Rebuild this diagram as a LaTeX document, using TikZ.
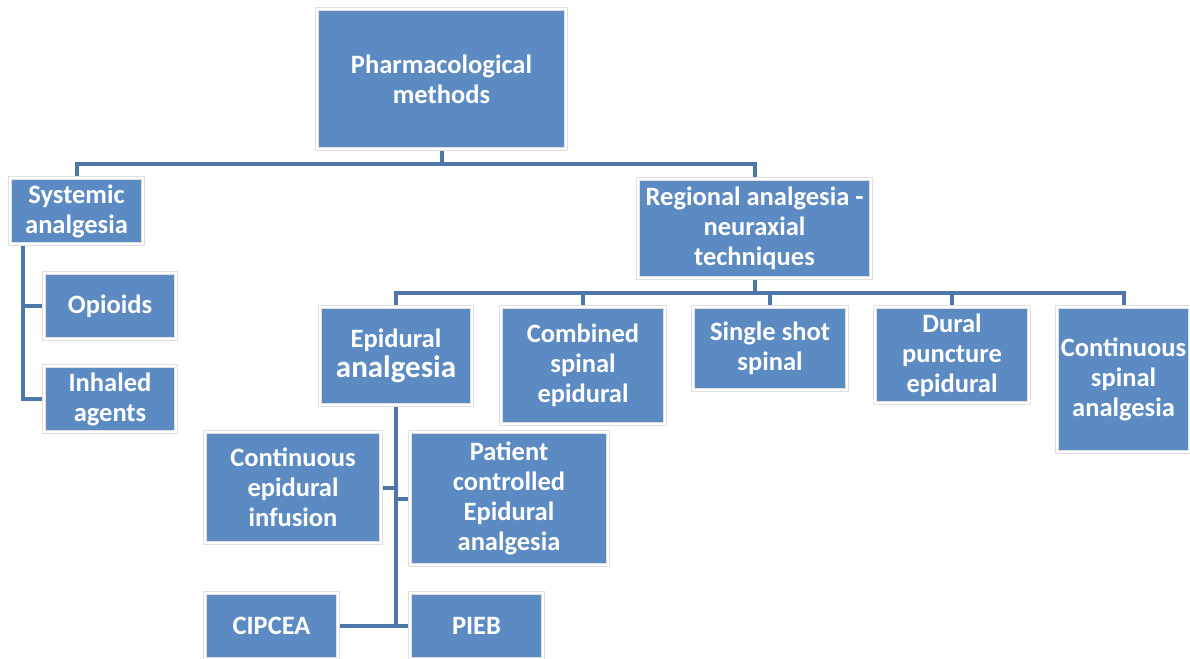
\documentclass[tikz,border=0pt]{standalone}
\usepackage{fontspec}
\setmainfont{Carlito}
\usetikzlibrary{backgrounds}

\definecolor{boxblue}{RGB}{91,139,194}
\definecolor{linkblue}{RGB}{76,119,168}

\tikzset{
  box/.style={rectangle, fill=boxblue, draw=black!12, double=white, double distance=2.6pt,
    line width=0.5pt, text=white, align=center, inner sep=2pt,
    font=\bfseries\fontsize{26.5}{30}\selectfont},
  conn/.style={draw=linkblue, line width=4pt}
}

\begin{document}
\begin{tikzpicture}[x=1pt,y=-1pt]

\useasboundingbox (0,0) rectangle (1190,658);

\node[box, minimum width=249, minimum height=140] (pharm) at (441.5,79) {Pharmacological\\methods};

\node[box, minimum width=133, minimum height=66] (sys) at (76.5,211) {Systemic\\analgesia};
\node[box, minimum width=132, minimum height=66] (opi) at (110,306) {Opioids};
\node[box, minimum width=132, minimum height=66] (inh) at (110,399) {Inhaled\\agents};

\node[box, minimum width=233, minimum height=99] (reg) at (754.5,228.5) {Regional analgesia -\\neuraxial\\techniques};

\node[box, minimum width=152, minimum height=98] (epi) at (396,356) {Epidural\\{\fontsize{31}{34}\selectfont analgesia}};
\node[box, minimum width=164, minimum height=117] (cse) at (583,365.5) {Combined\\spinal\\epidural};
\node[box, minimum width=154, minimum height=83] (sss) at (770,348.5) {Single shot\\spinal};
\node[box, minimum width=154, minimum height=96] (dpe) at (952,355) {Dural\\puncture\\epidural};
\node[box, minimum width=133, minimum height=145] (csa) at (1123.5,379.5) {Continuous\\spinal\\analgesia};

\node[box, minimum width=176, minimum height=111] (cei) at (293,487.5) {Continuous\\epidural\\infusion};
\node[box, minimum width=198, minimum height=133] (pcea) at (509,498.5) {Patient\\controlled\\Epidural\\analgesia};
\node[box, minimum width=133, minimum height=66] (cip) at (271.5,626) {CIPCEA};
\node[box, minimum width=133, minimum height=66] (pieb) at (476.5,626) {PIEB};

\coordinate (b1) at (441.5,164);
\coordinate (b2) at (754.5,293);
\coordinate (s0) at (23,244);

\begin{pgfonlayer}{background}
\draw[conn] (pharm.south) -- (b1);
\draw[conn] (sys.north) |- (b1) -| (reg.north);

\draw[conn] (s0) |- (opi.west);
\draw[conn] (s0) |- (inh.west);

\draw[conn] (reg.south) -- (b2);
\foreach \n in {epi,cse,sss,dpe,csa}
  \draw[conn] (b2) -| (\n.north);

\draw[conn] (epi.south) |- (cei.east);
\draw[conn] (epi.south) |- (pcea.west);
\draw[conn] (epi.south) |- (cip.east);
\draw[conn] (epi.south) |- (pieb.west);
\end{pgfonlayer}

\end{tikzpicture}
\end{document}
